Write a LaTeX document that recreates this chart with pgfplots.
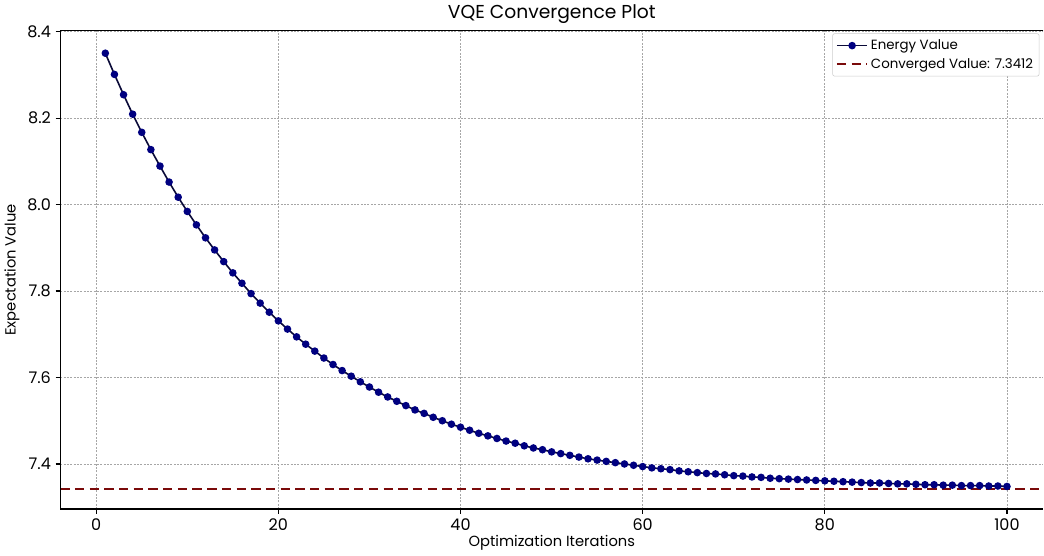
\documentclass[border=0pt]{standalone}
\usepackage{fontspec}
\setmainfont{Poppins}
\usepackage{pgfplots}
\pgfplotsset{compat=1.18}
\definecolor{energyfill}{HTML}{000080}
\definecolor{energyline}{HTML}{0A0A38}
\definecolor{convred}{HTML}{7A0A0A}

\pgfplotstableread{
x y
1 8.350
2 8.301
3 8.254
4 8.209
5 8.167
6 8.127
7 8.089
8 8.052
9 8.017
10 7.984
11 7.953
12 7.923
13 7.895
14 7.868
15 7.842
16 7.818
17 7.794
18 7.772
19 7.751
20 7.731
21 7.712
22 7.694
23 7.677
24 7.661
25 7.645
26 7.630
27 7.616
28 7.603
29 7.590
30 7.578
31 7.566
32 7.555
33 7.545
34 7.535
35 7.525
36 7.517
37 7.508
38 7.500
39 7.492
40 7.485
41 7.478
42 7.471
43 7.465
44 7.459
45 7.453
46 7.448
47 7.442
48 7.437
49 7.433
50 7.428
51 7.424
52 7.420
53 7.416
54 7.412
55 7.409
56 7.406
57 7.403
58 7.400
59 7.397
60 7.394
61 7.391
62 7.389
63 7.387
64 7.384
65 7.382
66 7.380
67 7.378
68 7.377
69 7.375
70 7.373
71 7.372
72 7.370
73 7.369
74 7.367
75 7.366
76 7.365
77 7.364
78 7.363
79 7.362
80 7.361
81 7.360
82 7.359
83 7.358
84 7.357
85 7.356
86 7.356
87 7.355
88 7.354
89 7.354
90 7.353
91 7.352
92 7.352
93 7.351
94 7.351
95 7.350
96 7.350
97 7.350
98 7.349
99 7.349
100 7.348
}\energy

\pgfplotstableread{
x y
-3.95 7.3412
104 7.3412
}\converged

\begin{document}
\begin{tikzpicture}
\begin{axis}[
  scale only axis,
  width=736pt, height=358pt,
  xmin=-3.95, xmax=104,
  ymin=7.296, ymax=8.402,
  xtick={0,20,40,60,80,100},
  ytick={7.4,7.6,7.8,8.0,8.2,8.4},
  yticklabel style={/pgf/number format/.cd, fixed, fixed zerofill, precision=1},
  /pgf/number format/assume math mode=true,
  tick label style={font=\fontsize{12}{14}\selectfont},
  xtick pos=left,
  ytick pos=left,
  axis line style={draw=none},
  tick align=outside,
  major tick length=3.5pt,
  tick style={black, line width=0.8pt},
  grid=major,
  grid style={gray!70, dash pattern=on 1.5pt off 1pt, line width=0.5pt},
  title={VQE Convergence Plot},
  title style={font=\fontsize{14}{16}\selectfont, yshift=-4pt},
  xlabel={Optimization Iterations},
  ylabel={Expectation Value},
  label style={font=\fontsize{11}{13}\selectfont},
  xlabel style={yshift=3pt},
  ylabel style={yshift=-1pt},
  legend cell align=left,
  legend style={at={(1,1)}, anchor=north east, xshift=-3pt, yshift=-2pt,
    font=\fontsize{10}{12}\selectfont, draw=gray!40, rounded corners=1.5pt,
    inner sep=2.5pt, row sep=1pt},
  legend image code/.code={\draw[mark repeat=2,mark phase=2,#1]
    plot coordinates {(0cm,0cm) (0.4cm,0cm) (0.8cm,0cm)};},
  after end axis/.code={
    \draw[black, line width=0.9pt, sharp corners]
      (rel axis cs:1,1) -- (rel axis cs:0,1) -- (rel axis cs:0,0) -- (rel axis cs:1,0);},
]
\addplot[color=energyline, line width=1.2pt, mark=*, mark size=2.2pt,
  mark options={fill=energyfill, draw=energyfill, solid}] table[x=x, y=y] {\energy};
\addlegendentry{Energy Value}
\addplot[color=convred, line width=1.4pt, dash pattern=on 7pt off 4pt,
  mark=none] table[x=x, y=y] {\converged};
\addlegendentry{Converged Value: 7.3412}
\end{axis}
\end{tikzpicture}
\end{document}
